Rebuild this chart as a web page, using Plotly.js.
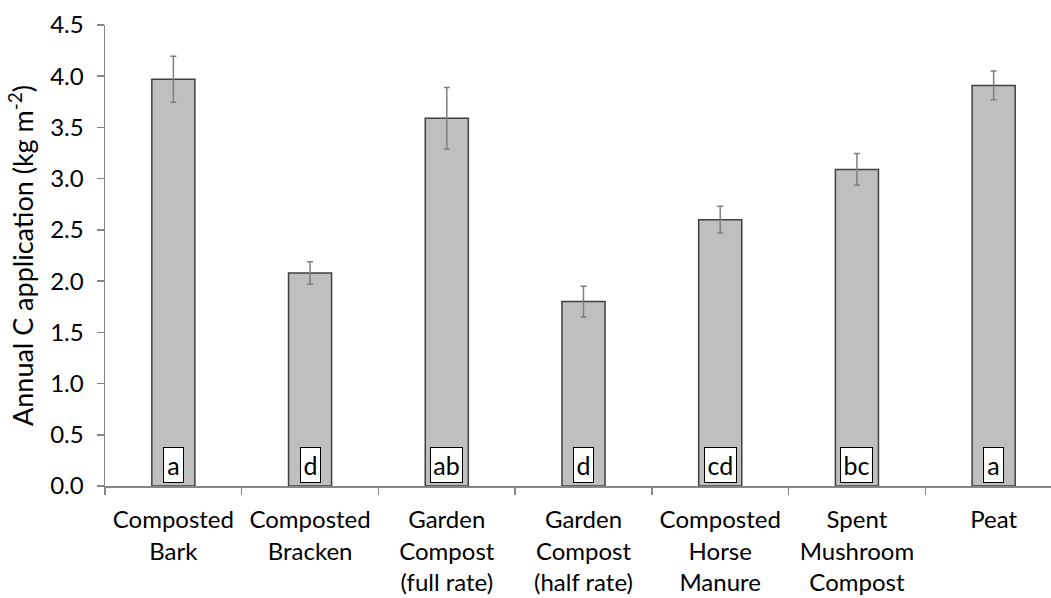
<!DOCTYPE html>
<html>
<head>
<meta charset="utf-8">
<script src="https://cdn.plot.ly/plotly-3.0.1.min.js"></script>
<style>
html,body{margin:0;padding:0;overflow:hidden;background:#fff;}
#chart{width:1070px;height:598px;}
</style>
</head>
<body>
<div id="chart"></div>
<script>
const categories = [
  "Composted<br>Bark",
  "Composted<br>Bracken",
  "Garden<br>Compost<br>(full rate)",
  "Garden<br>Compost<br>(half rate)",
  "Composted<br>Horse<br>Manure",
  "Spent<br>Mushroom<br>Compost",
  "Peat"
];
const values = [3.97, 2.08, 3.59, 1.80, 2.60, 3.09, 3.91];
const errors = [0.225, 0.11, 0.30, 0.15, 0.13, 0.155, 0.14];
const letters = ["a", "d", "ab", "d", "cd", "bc", "a"];
const yTickVals = [0, 0.5, 1, 1.5, 2, 2.5, 3, 3.5, 4, 4.5];
const yTickText = ["0.0", "0.5", "1.0", "1.5", "2.0", "2.5", "3.0", "3.5", "4.0", "4.5"];

const FONT = "Lato, 'Open Sans', sans-serif";

const trace = {
  type: "bar",
  x: categories,
  y: values,
  marker: {color: "#bfbfbf", line: {color: "#404040", width: 1.5}},
  error_y: {type: "data", array: errors, visible: true, color: "#7f7f7f", thickness: 1.5, width: 3},
  hoverinfo: "none"
};

const annotations = letters.map((t, i) => ({
  x: categories[i], y: 0, xref: "x", yref: "y",
  yanchor: "bottom", yshift: 3,
  text: t, showarrow: false,
  font: {family: FONT, size: 25, color: "#000"},
  height: 32, width: 5 + 12 * t.length, borderpad: 1,
  bgcolor: "#ffffff", bordercolor: "#000000", borderwidth: 1
}));

const layout = {
  width: 1070, height: 598,
  margin: {l: 105, r: 8, t: 25, b: 112},
  paper_bgcolor: "#fff", plot_bgcolor: "#fff",
  font: {family: FONT, size: 24, color: "#000"},
  bargap: 0.685,
  showlegend: false,
  xaxis: {
    type: "category",
    range: [-0.5, 6.5],
    showline: true, linecolor: "#868686", linewidth: 1.5,
    ticks: "outside", tickson: "boundaries", ticklen: 7, tickcolor: "#868686", tickwidth: 1.5,
    ticklabelstandoff: 12,
    showgrid: false, zeroline: false,
    tickfont: {family: FONT, size: 24, color: "#000"},
    fixedrange: true
  },
  yaxis: {
    range: [0, 4.5],
    tickvals: yTickVals, ticktext: yTickText,
    showline: true, linecolor: "#868686", linewidth: 1.5,
    ticks: "outside", ticklen: 7, tickcolor: "#868686", tickwidth: 1.5,
    ticklabelstandoff: 8,
    showgrid: false, zeroline: false,
    tickfont: {family: FONT, size: 24, color: "#000"},
    title: {text: "Annual C application (kg m<sup>-2</sup>)", font: {family: FONT, size: 27, color: "#000"}, standoff: 8},
    fixedrange: true
  },
  annotations: annotations
};

Plotly.newPlot("chart", [trace], layout, {displayModeBar: false, staticPlot: true});
</script>
</body>
</html>
